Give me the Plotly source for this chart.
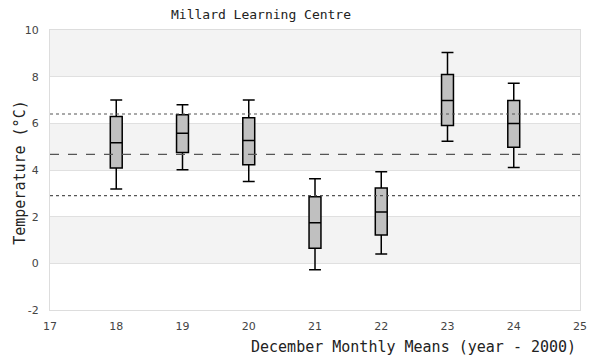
import plotly.graph_objects as go

# ---- data ----
years = [18, 19, 20, 21, 22, 23, 24]
upper_fence = [7.0, 6.8, 7.0, 3.62, 3.92, 9.04, 7.72]
q3 = [6.29, 6.37, 6.24, 2.85, 3.23, 8.09, 6.98]
median = [5.17, 5.57, 5.26, 1.74, 2.20, 6.98, 5.99]
q1 = [4.09, 4.75, 4.22, 0.65, 1.21, 5.91, 4.97]
lower_fence = [3.19, 4.01, 3.51, -0.28, 0.40, 5.23, 4.11]

overall_mean = 4.67
band_upper = 6.40
band_lower = 2.90

x_ticks = [17, 18, 19, 20, 21, 22, 23, 24, 25]
y_ticks = [-2, 0, 2, 4, 6, 8, 10]
y_tick_labels = ["-2", "0", "2", "4", "6", "8", "10"]
shaded_bands = [(0, 2), (4, 6), (8, 10)]

title_text = "Millard Learning Centre"
x_title = "December Monthly Means (year - 2000)"
y_title = "Temperature (°C)"

MONO = "DejaVu Sans Mono"
SANS = "DejaVu Sans"

fig = go.Figure()
fig.add_trace(go.Box(
    x=years, q1=q1, median=median, q3=q3,
    lowerfence=lower_fence, upperfence=upper_fence,
    fillcolor="#c0c0c0",
    line=dict(color="black", width=1.5),
    width=0.18, whiskerwidth=1,
    boxpoints=False, showlegend=False, hoverinfo="skip",
))

shapes = []
for lo, hi in shaded_bands:
    shapes.append(dict(type="rect", xref="paper", yref="y", x0=0, x1=1, y0=lo, y1=hi,
                       fillcolor="#f3f3f3", line=dict(width=0), layer="below"))
shapes.append(dict(type="line", xref="paper", yref="y", x0=0, x1=1, y0=overall_mean, y1=overall_mean,
                   line=dict(color="#555555", width=1.2, dash="dash")))
for v in (band_upper, band_lower):
    shapes.append(dict(type="line", xref="paper", yref="y", x0=0, x1=1, y0=v, y1=v,
                       line=dict(color="#555555", width=1.2, dash="dot")))

# page body adds an 8px offset; figure is sized to compensate
fig.update_layout(
    width=592, height=352,
    margin=dict(l=42, r=20, t=22, b=50, autoexpand=False),
    paper_bgcolor="white", plot_bgcolor="white",
    shapes=shapes,
    annotations=[
        dict(text=title_text, xref="paper", yref="paper", x=(261 - 50) / 530, y=1 + 15 / 280,
             xanchor="center", yanchor="middle", showarrow=False,
             font=dict(family=MONO, size=13, color="#222222")),
        dict(text=x_title, xref="paper", yref="paper", x=1 - 2 / 530, y=-37 / 280,
             xanchor="right", yanchor="middle", showarrow=False,
             font=dict(family=MONO, size=15, color="#222222")),
        dict(text=y_title, xref="paper", yref="paper", x=-30 / 530, y=0.49,
             xanchor="center", yanchor="middle", showarrow=False, textangle=-90,
             font=dict(family=MONO, size=15, color="#222222")),
    ],
    xaxis=dict(range=[17, 25], tickvals=x_ticks, showgrid=False, zeroline=False, automargin=False,
               showline=True, linecolor="#dddddd", linewidth=1, mirror=True,
               ticks="", ticklabelstandoff=6,
               tickfont=dict(family=SANS, size=11, color="#444444")),
    yaxis=dict(range=[-2, 10], tickvals=y_ticks, ticktext=y_tick_labels, showgrid=True,
               gridcolor="#e0e0e0", gridwidth=1, zeroline=False, automargin=False,
               showline=True, linecolor="#dddddd", linewidth=1, mirror=True,
               ticks="", ticklabelstandoff=8,
               tickfont=dict(family=SANS, size=11, color="#444444")),
)

fig.write_html("out.html")
